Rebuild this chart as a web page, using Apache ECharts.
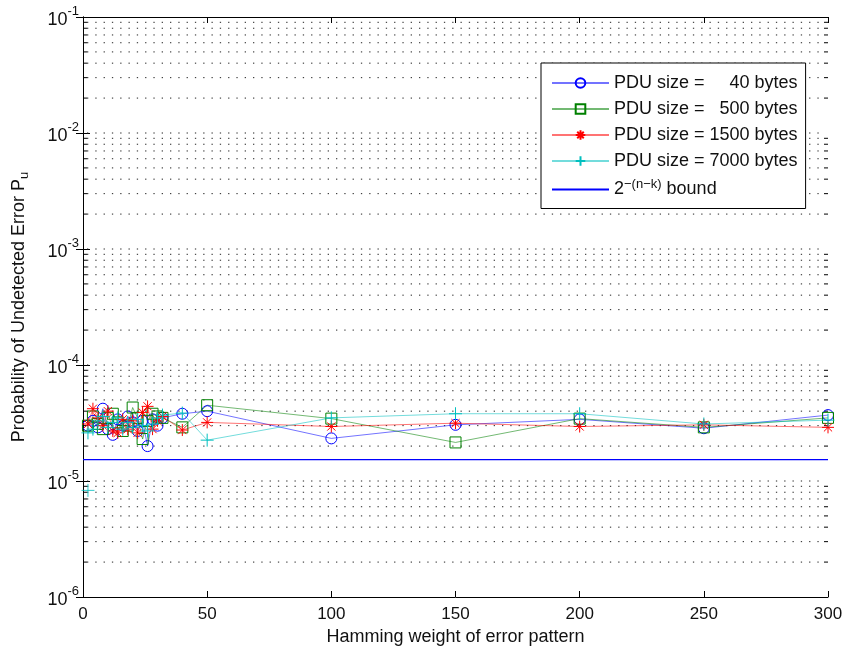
<!DOCTYPE html>
<html>
<head>
<meta charset="utf-8">
<script src="https://cdn.jsdelivr.net/npm/echarts@6/dist/echarts.min.js"></script>
<style>html,body{margin:0;padding:0;background:#fff}#c{width:844px;height:647px}</style>
</head>
<body>
<div id="c"></div>
<script>
// ---- data ----
var weights = [2,4,6,8,10,12,14,16,18,20,22,24,26,28,30,32,40,50,100,150,200,250,300];
var pdu40   = [3.0,3.3,2.9,4.2,2.8,2.5,3.4,3.0,3.6,3.2,2.7,3.3,2.0,3.4,3.0,3.5,3.8,4.0,2.33,3.05,3.4,2.85,3.7];
var pdu500  = [3.0,3.6,3.1,2.8,3.5,3.8,3.2,2.7,3.0,4.3,3.5,2.3,3.3,3.8,3.6,3.5,2.9,4.5,3.45,2.15,3.45,2.9,3.5];
var pdu1500 = [3.1,4.2,3.5,3.0,4.0,2.7,2.6,3.4,2.8,3.3,2.6,3.9,4.4,2.8,3.3,3.6,2.75,3.2,2.95,3.15,2.95,3.05,2.9];
var pdu7000 = [2.6,2.8,3.3,3.6,2.9,3.2,3.5,2.8,3.2,2.9,3.4,3.0,2.7,3.1,3.5,3.7,3.85,2.25,3.5,3.8,3.8,3.1,3.35];
var pdu7000Extra = [[2, 0.83]];          // isolated cyan point (x1e-5)
var valueScale = 1e-5;
var boundValue = Math.pow(2, -16);
var xTicks = [0, 300];
var yDecades = [-6, -1];
var seriesNames = ['PDU size =     40 bytes','PDU size =   500 bytes','PDU size = 1500 bytes','PDU size = 7000 bytes','bound'];

// ---- helpers ----
function pairs(vals){ return weights.map(function(w,i){ return [w, vals[i]*valueScale]; }); }
var minorVals = [];
for (var d = yDecades[0]; d < yDecades[1]; d++) {
  for (var m = 1; m <= 9; m++) {
    if (m === 1 && d === yDecades[0]) continue;
    minorVals.push([m, m * Math.pow(10, d)]);
  }
}
var FONT = 'Liberation Sans, Arial, sans-serif';
var FS = 18;
var plusPath = 'path://M0,5L10,5M5,0L5,10';
var starPath = 'path://M0,5L10,5M5,0L5,10M1.6,1.6L8.4,8.4M8.4,1.6L1.6,8.4';

function lineSeries(name, vals, color, symbol, size){
  return {
    name: name, type: 'line', data: pairs(vals), symbol: symbol, symbolSize: size,
    showAllSymbol: true,
    lineStyle: {color: color, width: 1, opacity: 0.55},
    itemStyle: {color: 'rgba(0,0,0,0)', borderColor: color, borderWidth: 1},
    emphasis: {disabled: true}, z: 5, animation: false
  };
}

var legendData = seriesNames.map(function(n){
  return n === 'bound' ? {name: n, itemStyle: {opacity: 0}} : {name: n};
});

var chart = echarts.init(document.getElementById('c'), null, {renderer: 'canvas'});
var option = {
  animation: false,
  backgroundColor: '#fff',
  grid: {left: 83, right: 16, top: 17, bottom: 50, containLabel: false, outerBoundsMode: 'none'},
  legend: {
    orient: 'vertical', left: 541, top: 63,
    data: legendData,
    backgroundColor: '#fff', borderColor: '#000', borderWidth: 1,
    padding: [11, 8, 10, 10], itemGap: 8, itemWidth: 57, itemHeight: 12,
    textStyle: {fontFamily: FONT, fontSize: FS, color: '#111',
      rich: {n: {fontFamily: FONT, fontSize: FS, color:'#111'},
             s: {fontFamily: FONT, fontSize: 13, color:'#111', verticalAlign: 'bottom', padding: [0,0,10,0]}}},
    formatter: function(name){
      if (name === 'bound') return '{n|2}{s|\u2212(n\u2212k)}{n| bound}';
      return name;
    },
    selectedMode: false
  },
  xAxis: [{
    type: 'value', min: xTicks[0], max: xTicks[1], interval: 50,
    name: 'Hamming weight of error pattern', nameLocation: 'middle', nameGap: 27,
    nameTextStyle: {fontFamily: FONT, fontSize: FS, color: '#111'},
    axisLine: {lineStyle: {color: '#000', width: 1}},
    axisTick: {inside: true, length: 6, lineStyle: {color: '#000'}},
    axisLabel: {fontFamily: FONT, fontSize: 17, color: '#111', margin: 9},
    splitLine: {show: false}
  }, {
    type: 'value', position: 'top', min: xTicks[0], max: xTicks[1], interval: 50,
    axisLine: {lineStyle: {color: '#000', width: 1}},
    axisTick: {inside: true, length: 6, lineStyle: {color: '#000'}},
    axisLabel: {show: false}, splitLine: {show: false}
  }],
  yAxis: [{
    type: 'log', logBase: 10, min: Math.pow(10, yDecades[0]), max: Math.pow(10, yDecades[1]),
    name: '{n|Probability of Undetected Error P}{u|u}', nameLocation: 'middle', nameGap: 52,
    nameTextStyle: {fontFamily: FONT, fontSize: FS, color: '#111',
      rich: {n: {fontFamily: FONT, fontSize: FS, color: '#111'},
             u: {fontFamily: FONT, fontSize: 13, color: '#111', verticalAlign: 'top', padding: [10,0,0,0]}}},
    axisLine: {show: true, lineStyle: {color: '#000', width: 1}},
    axisTick: {inside: true, length: 7, lineStyle: {color: '#000'}},
    axisLabel: {fontFamily: FONT, fontSize: 18, color: '#111', margin: 4,
      formatter: function(v){ var e = Math.round(Math.log10(v)); return '{b|10}{e|' + e + '}'; },
      rich: {b: {fontFamily: FONT, fontSize: 18, color: '#111', padding: [6,0,0,0]},
             e: {fontFamily: FONT, fontSize: 13, color: '#111', verticalAlign: 'bottom', padding: [0,0,12,0]}}},
    splitLine: {show: false}
  }, {
    type: 'log', logBase: 10, min: Math.pow(10, yDecades[0]), max: Math.pow(10, yDecades[1]),
    position: 'right',
    axisLine: {show: true, lineStyle: {color: '#000', width: 1}},
    axisTick: {inside: true, length: 7, lineStyle: {color: '#000'}},
    axisLabel: {show: false}, splitLine: {show: false}
  }],
  series: [
    {
      name: 'grid', type: 'custom', silent: true, z: 1, data: minorVals,
      encode: {x: 0, y: 1},
      renderItem: function(params, api){
        var v = api.value(1), m = api.value(0);
        var a = api.coord([xTicks[0], v]), b = api.coord([xTicks[1], v]);
        var children = [{
          type: 'line', shape: {x1: a[0] + 4, y1: a[1], x2: b[0] - 4, y2: b[1]},
          style: {stroke: '#222', lineWidth: 1, lineDash: [1.3, 7]}
        }];
        if (m !== 1) {
          children.push({type: 'line', shape: {x1: a[0], y1: a[1], x2: a[0] + 4, y2: a[1]}, style: {stroke: '#000', lineWidth: 1}});
          children.push({type: 'line', shape: {x1: b[0] - 4, y1: b[1], x2: b[0], y2: b[1]}, style: {stroke: '#000', lineWidth: 1}});
        }
        return {type: 'group', children: children};
      }
    },
    lineSeries(seriesNames[0], pdu40, '#0000FF', 'circle', 11),
    lineSeries(seriesNames[1], pdu500, '#008000', 'rect', 11),
    lineSeries(seriesNames[2], pdu1500, '#FF0000', starPath, 12),
    lineSeries(seriesNames[3], pdu7000, '#00BFBF', plusPath, 13),
    {
      name: 'extra', type: 'scatter', symbol: plusPath, symbolSize: 13,
      data: pdu7000Extra.map(function(p){ return [p[0], p[1]*valueScale]; }),
      itemStyle: {color: 'rgba(0,0,0,0)', borderColor: '#00BFBF', borderWidth: 1}, z: 6
    },
    {
      name: 'bound', type: 'line', symbol: 'none',
      data: [[xTicks[0], boundValue], [xTicks[1], boundValue]],
      lineStyle: {color: '#0000FF', width: 1.3},
      itemStyle: {color: '#0000FF'}, z: 4
    }
  ]
};
chart.setOption(option);
</script>
</body>
</html>
